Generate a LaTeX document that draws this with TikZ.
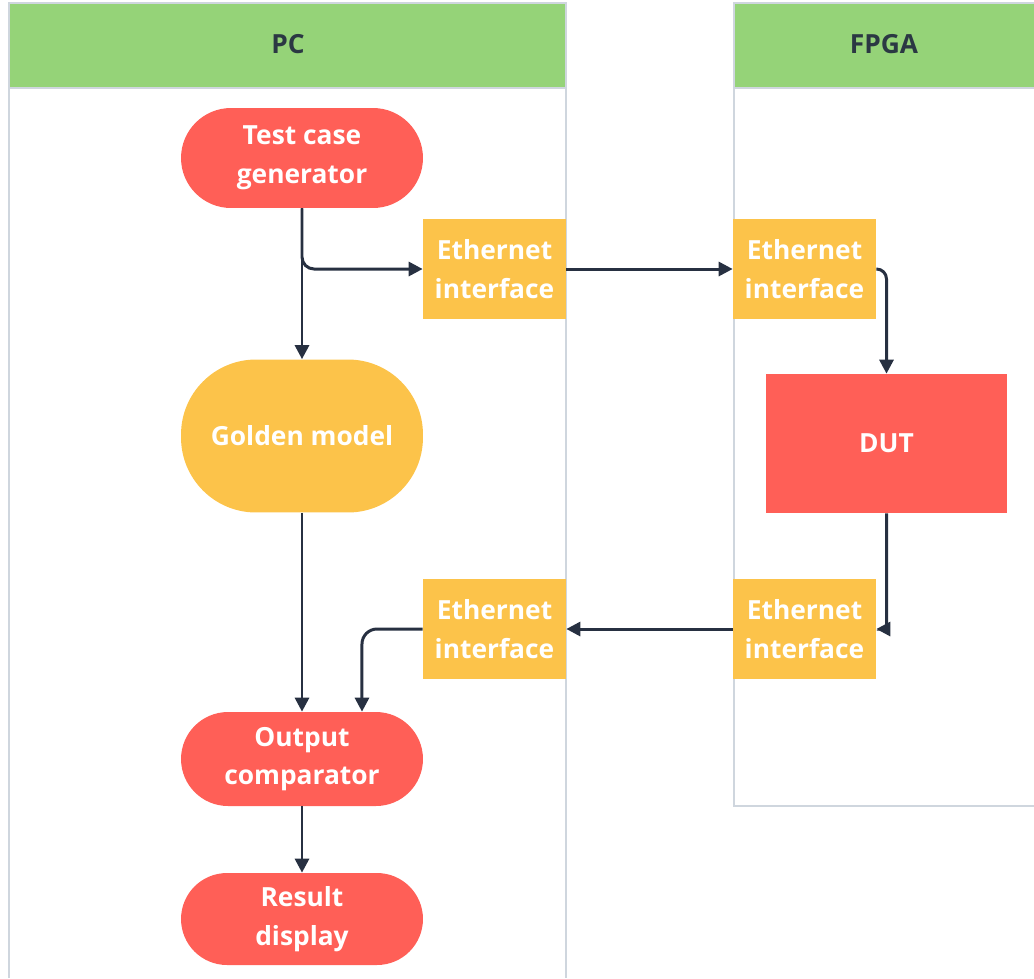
\documentclass[tikz,border=0pt]{standalone}
\usepackage{fontspec}
\setmainfont{Open Sans}
\usetikzlibrary{arrows.meta, positioning, calc}
\definecolor{laneGreen}{HTML}{95D378}
\definecolor{laneLine}{HTML}{CFD6DE}
\definecolor{boxRed}{HTML}{FF5F57}
\definecolor{boxYellow}{HTML}{FCC34A}
\definecolor{arrowDark}{HTML}{273041}
\definecolor{headText}{HTML}{2B3843}
\tikzset{
  boxfont/.style={font=\fontsize{15}{22}\selectfont\bfseries},
  procbox/.style={boxfont, fill=boxRed, text=white, align=center, inner sep=0pt,
    minimum width=4.84cm, minimum height=2cm, rounded corners=1cm},
  ethbox/.style={boxfont, fill=boxYellow, text=white, align=center, inner sep=0pt,
    minimum width=2.86cm, minimum height=2cm},
  lanehead/.style={boxfont, text=headText},
  flow/.style={arrowDark, line width=1.7pt, -{Triangle[length=8pt,width=8pt]}}
}

\begin{document}
\begin{tikzpicture}[x=0.02cm, y=-0.02cm]
  \useasboundingbox (0,0) rectangle (1034,978);
  % carriles
  \fill[laneGreen] (9,3) rectangle (566,88);
  \draw[laneLine, line width=0.6pt] (9,978) -- (9,3) -- (566,3) -- (566,978);
  \draw[laneLine, line width=0.6pt] (9,88) -- (566,88);
  \fill[laneGreen] (734,3) rectangle (1034,88);
  \draw[laneLine, line width=0.6pt] (1034,806) -- (734,806) -- (734,3) -- (1034,3);
  \draw[laneLine, line width=0.6pt] (734,88) -- (1034,88);
  \node[lanehead] (pchead) at (288,44) {PC};
  \node[lanehead] (fpgahead) at (884,44) {FPGA};

  % lado PC
  \node[procbox] (tcg) at (302,158) {Test case\\generator};
  \node[procbox, fill=boxYellow, minimum height=3.06cm, rounded corners=1.5cm]
    (golden) at (302,436) {Golden model};
  \node[procbox, minimum height=1.88cm, rounded corners=0.94cm]
    (cmp) at (302,759) {Output\\comparator};
  \node[procbox, minimum height=1.84cm, rounded corners=0.92cm]
    (result) at (302,919) {Result\\display};
  \node[ethbox] (ethpcA) at (494.5,269) {Ethernet\\interface};
  \node[ethbox] (ethpcB) at (494.5,629) {Ethernet\\interface};

  % lado FPGA
  \node[ethbox] (ethfpA) at (804.5,269) {Ethernet\\interface};
  \node[ethbox] (ethfpB) at (804.5,629) {Ethernet\\interface};
  \node[procbox, rounded corners=0pt, minimum width=4.82cm, minimum height=2.78cm]
    (dut) at (886.5,443.5) {DUT};

  % flechas
  \draw[flow] (tcg) -- (golden);
  \draw[flow, rounded corners=0.24cm] (tcg.south) |- (ethpcA.west);
  \draw[flow] (ethpcA) -- (ethfpA);
  \draw[flow, rounded corners=0.2cm] (ethfpA.east) -| (dut.north);
  \draw[flow, rounded corners=0.05cm] (dut.south) |- (ethfpB.east);
  \draw[flow] (ethfpB) -- (ethpcB);
  \draw[flow, rounded corners=0.3cm] (ethpcB.west) -| ([xshift=1.2cm]cmp.north);
  \draw[flow] (golden) -- (cmp);
  \draw[flow] (cmp) -- (result);
\end{tikzpicture}
\end{document}
